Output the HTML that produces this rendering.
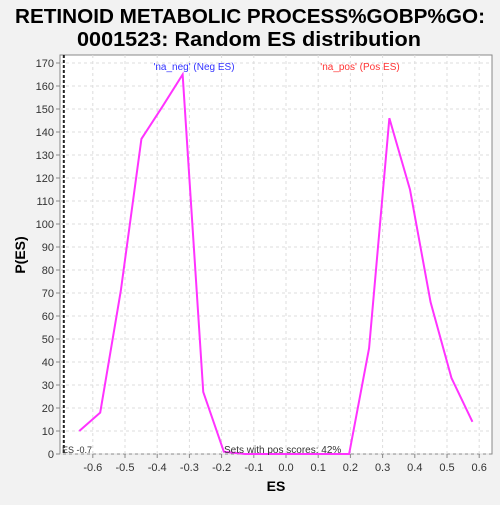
<!DOCTYPE html>
<html><head><meta charset="utf-8"><style>
body{margin:0;background:#f2f2f2;font-family:"Liberation Sans",sans-serif}
</style></head><body>
<svg width="500" height="500" xmlns="http://www.w3.org/2000/svg" font-family="Liberation Sans, sans-serif">
<rect width="500" height="500" fill="#f2f2f2"/>
<text x="15" y="23" font-size="20" font-weight="bold" textLength="470" lengthAdjust="spacingAndGlyphs">RETINOID METABOLIC PROCESS%GOBP%GO:</text>
<text x="77" y="46" font-size="20" font-weight="bold" textLength="344" lengthAdjust="spacingAndGlyphs">0001523: Random ES distribution</text>
<rect x="60" y="55" width="432" height="399" fill="#fff" stroke="#888"/>
<g id="grid"></g><g id="axes"></g><g id="series"></g>
<text x="25" y="255" text-anchor="middle" font-size="14" font-weight="bold" transform="rotate(-90 25 255)">P(ES)</text>
<text x="276" y="491" text-anchor="middle" font-size="14" font-weight="bold">ES</text>
<text x="194" y="70" text-anchor="middle" font-size="10" fill="#3333ff">'na_neg' (Neg ES)</text>
<text x="360" y="70" text-anchor="middle" font-size="10" fill="#ff3333">'na_pos' (Pos ES)</text>
<text x="62" y="453" font-size="9" fill="#333">ES -0.7</text>
<text x="224" y="453" font-size="10" fill="#333">Sets with pos scores: 42%</text>
</svg>
<script>
const xTicks=[-0.6,-0.5,-0.4,-0.3,-0.2,-0.1,0.0,0.1,0.2,0.3,0.4,0.5,0.6];
const yTicks=[0,10,20,30,40,50,60,70,80,90,100,110,120,130,140,150,160,170];
const esX=[-0.642,-0.577,-0.513,-0.449,-0.384,-0.321,-0.257,-0.193,-0.128,-0.064,0.0,0.067,0.131,0.196,0.258,0.321,0.385,0.449,0.514,0.579];
const pES=[10,18,71,137,151,165,27,1,0,0,0,0,0,0,46,146,115,66,33,14];
const actualES=-0.69;
const NS="http://www.w3.org/2000/svg";
const X=v=>286+v*322, Y=v=>454-v*2.3;
function mk(t,a,p){const e=document.createElementNS(NS,t);for(const k in a)e.setAttribute(k,a[k]);p.appendChild(e);return e;}
const g=document.getElementById('grid'),ax=document.getElementById('axes'),s=document.getElementById('series');
xTicks.forEach(v=>{
 const l=mk('line',{x1:X(v),x2:X(v),y1:55,y2:454,stroke:'#ddd','stroke-dasharray':'3,3'},g);
 
 
 mk('line',{x1:X(v),x2:X(v),y1:454,y2:458,stroke:'#888'},ax);
 const t=mk('text',{x:X(v),y:471,'text-anchor':'middle','font-size':11,fill:'#333'},ax);
 t.textContent=v.toFixed(1);
 
 
});
yTicks.forEach(v=>{
 const l=mk('line',{x1:60,x2:492,y1:Y(v),y2:Y(v),stroke:'#ddd','stroke-dasharray':'3,3'},g);
 
 
 mk('line',{x1:56,x2:60,y1:Y(v),y2:Y(v),stroke:'#888'},ax);
 const t=mk('text',{x:54,y:Y(v)+4,'text-anchor':'end','font-size':11,fill:'#333'},ax);
 t.textContent=v;
 
 
});
const d=mk('line',{x1:X(actualES),x2:X(actualES),y1:55,y2:454,stroke:'#222','stroke-width':2,'stroke-dasharray':'3,2'},s);


const pl=mk('polyline',{points:esX.map((x,i)=>X(x)+','+Y(pES[i])).join(' '),fill:'none',stroke:'#ff33ff','stroke-width':2},s);


</script>
</body></html>
